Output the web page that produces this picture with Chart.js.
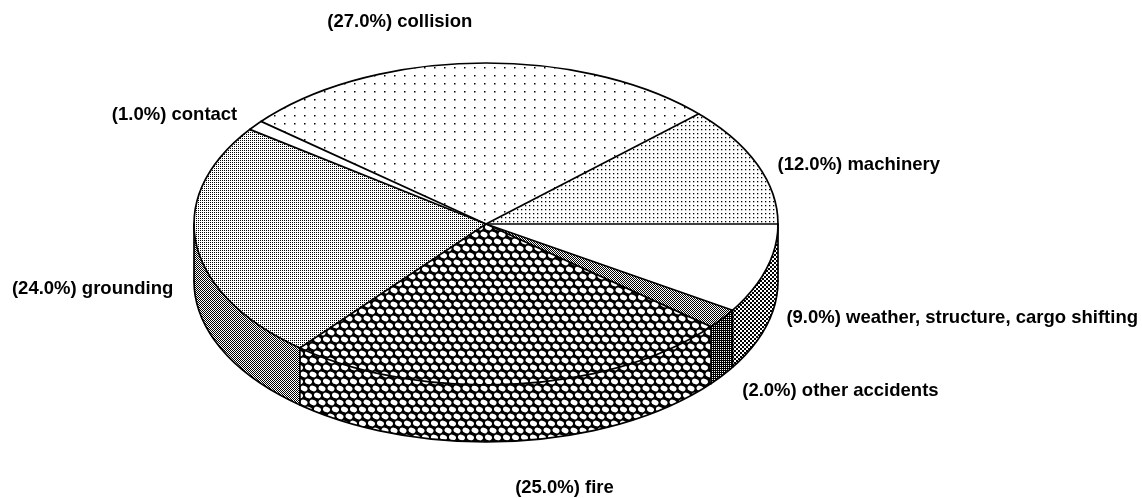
<!DOCTYPE html>
<html><head><meta charset="utf-8">
<script src="https://cdn.jsdelivr.net/npm/chart.js@4.4.1/dist/chart.umd.min.js"></script>
<style>html,body{margin:0;padding:0;background:#fff;overflow:hidden}canvas{display:block}</style>
</head><body>
<canvas id="c" width="1142" height="498"></canvas>
<script>
// ---- data ----
const categories = ['weather, structure, cargo shifting', 'other accidents', 'fire', 'grounding', 'contact', 'collision', 'machinery'];
const percentages = [9.0, 2.0, 25.0, 24.0, 1.0, 27.0, 12.0];
const labelTexts = categories.map((c, i) => '(' + percentages[i].toFixed(1) + '%) ' + c);

// ---- layout / style ----
const GEO = { cx: 486, cy: 224, rx: 292, ry: 161, depth: 57 };
const LABEL_OFF = [[20, -8], [20, 15], [51, 47], [-23, -12], [-18, -10], [-77, -41], [20, 0]];
const FONT = '700 18.5px "Liberation Sans", Arial, sans-serif';

const canvas = document.getElementById('c');
const mainCtx = canvas.getContext('2d');
const allPatterns = [];
function makePattern(w, h, draw) {
  const c = document.createElement('canvas'); c.width = w; c.height = h;
  const g = c.getContext('2d');
  g.fillStyle = '#fff'; g.fillRect(0, 0, w, h);
  g.fillStyle = '#000'; g.strokeStyle = '#000';
  draw(g, w, h);
  const p = mainCtx.createPattern(c, 'repeat');
  allPatterns.push(p);
  return p;
}
function px(g, list) { list.forEach(([x, y]) => g.fillRect(x, y, 1, 1)); }

const patCollision = makePattern(10, 8, g => { g.fillRect(4, 3, 1.5, 1.5); });
const patMachinery = makePattern(4, 4, g => { g.fillRect(1, 1, 1.3, 1.3); });
const patWhite = makePattern(4, 4, g => {});
const patCheck2 = makePattern(4, 4, g => { g.fillRect(0, 0, 2, 2); g.fillRect(2, 2, 2, 2); });
const patCheck1 = makePattern(2, 2, g => { px(g, [[0, 0], [1, 1]]); });
const patDark = makePattern(2, 2, g => { px(g, [[0, 0], [1, 1], [1, 0]]); });
const patGroundTop = makePattern(2, 2, g => { px(g, [[0, 0]]); });
const patGroundSide = makePattern(2, 2, g => { px(g, [[0, 0], [1, 1]]); });
const patFire = makePattern(9, 14, (g, w, h) => {
  g.fillStyle = '#000'; g.fillRect(0, 0, w, h);
  g.fillStyle = '#fff';
  const centers = [[2.5, 3.5], [7, 10.5]];
  centers.forEach(([x, y]) => {
    for (const dx of [-w, 0, w]) for (const dy of [-h, 0, h]) {
      g.beginPath(); g.ellipse(x + dx, y + dy, 3.6, 2.7, 0.3, 0, Math.PI * 2); g.fill();
    }
  });
});

const topPatterns = [patWhite, patCheck1, patFire, patGroundTop, patWhite, patCollision, patMachinery];
const sidePatterns = [patCheck2, patDark, patFire, patGroundSide, patWhite, patCollision, patMachinery];

const TAU = Math.PI * 2;
const P = (a, dz = 0) => [GEO.cx + GEO.rx * Math.cos(a), GEO.cy + GEO.ry * Math.sin(a) + dz];

const pie3d = {
  id: 'pie3d',
  beforeDatasetsDraw(chart) {
    const arcs = chart.getDatasetMeta(0).data;
    const R = arcs[0].outerRadius, x = arcs[0].x, y = arcs[0].y;
    const s = GEO.rx / R, sy = GEO.ry / R;
    const tx = GEO.cx - s * x, ty = GEO.cy - sy * y;
    allPatterns.forEach(p => p.setTransform(new DOMMatrix([1 / s, 0, 0, 1 / sy, -tx / s, -ty / sy])));
    const ctx = chart.ctx;
    ctx.save();
    ctx.translate(GEO.cx, GEO.cy); ctx.scale(s, sy); ctx.translate(-x, -y);
    const D = GEO.depth / sy;
    arcs.forEach((arc, i) => {
      const st = arc.startAngle, en = arc.endAngle;
      for (const base of [-TAU, 0, TAU]) {
        const lo = Math.max(st, base), hi = Math.min(en, base + Math.PI);
        if (hi > lo) {
          ctx.beginPath();
          ctx.arc(x, y, R, lo, hi);
          ctx.arc(x, y + D, R, hi, lo, true);
          ctx.closePath();
          ctx.fillStyle = sidePatterns[i];
          ctx.fill();
        }
      }
    });
  },
  afterDatasetsDraw(chart) {
    const ctx = chart.ctx;
    ctx.restore();
    const arcs = chart.getDatasetMeta(0).data;
    const { cx, cy, rx, ry, depth } = GEO;
    ctx.save();
    ctx.strokeStyle = '#000'; ctx.lineWidth = 1.7; ctx.lineJoin = 'round'; ctx.lineCap = 'round';
    ctx.beginPath(); ctx.ellipse(cx, cy + depth, rx, ry, 0, 0, Math.PI); ctx.stroke();
    [0, Math.PI].forEach(a => { const p = P(a); ctx.beginPath(); ctx.moveTo(p[0], p[1]); ctx.lineTo(p[0], p[1] + depth); ctx.stroke(); });
    ctx.beginPath(); ctx.ellipse(cx, cy, rx, ry, 0, 0, TAU); ctx.stroke();
    arcs.forEach(arc => {
      const a = arc.startAngle;
      const p = P(a);
      ctx.beginPath(); ctx.moveTo(cx, cy); ctx.lineTo(p[0], p[1]); ctx.stroke();
      if (Math.sin(a) > 0.001) { ctx.beginPath(); ctx.moveTo(p[0], p[1]); ctx.lineTo(p[0], p[1] + depth); ctx.stroke(); }
    });
    ctx.restore();
  },
  afterDraw(chart) {
    const ctx = chart.ctx;
    const arcs = chart.getDatasetMeta(0).data;
    ctx.save();
    ctx.font = FONT; ctx.fillStyle = '#000'; ctx.textBaseline = 'middle';
    arcs.forEach((arc, i) => {
      const m = (arc.startAngle + arc.endAngle) / 2;
      const c = Math.cos(m), sn = Math.sin(m);
      const p = P(m, sn > 0 ? GEO.depth : 0);
      ctx.textAlign = c > 0.2 ? 'left' : (c < -0.2 ? 'right' : 'center');
      ctx.fillText(labelTexts[i], p[0] + LABEL_OFF[i][0], p[1] + LABEL_OFF[i][1]);
    });
    ctx.restore();
  }
};

new Chart(canvas, {
  type: 'pie',
  data: {
    labels: categories,
    datasets: [{ data: percentages, backgroundColor: topPatterns, borderWidth: 0, clip: false }]
  },
  options: {
    responsive: false,
    animation: false,
    rotation: 90,
    events: [],
    layout: { padding: 0 },
    plugins: { legend: { display: false }, tooltip: { enabled: false } }
  },
  plugins: [pie3d]
});
</script>
</body></html>
